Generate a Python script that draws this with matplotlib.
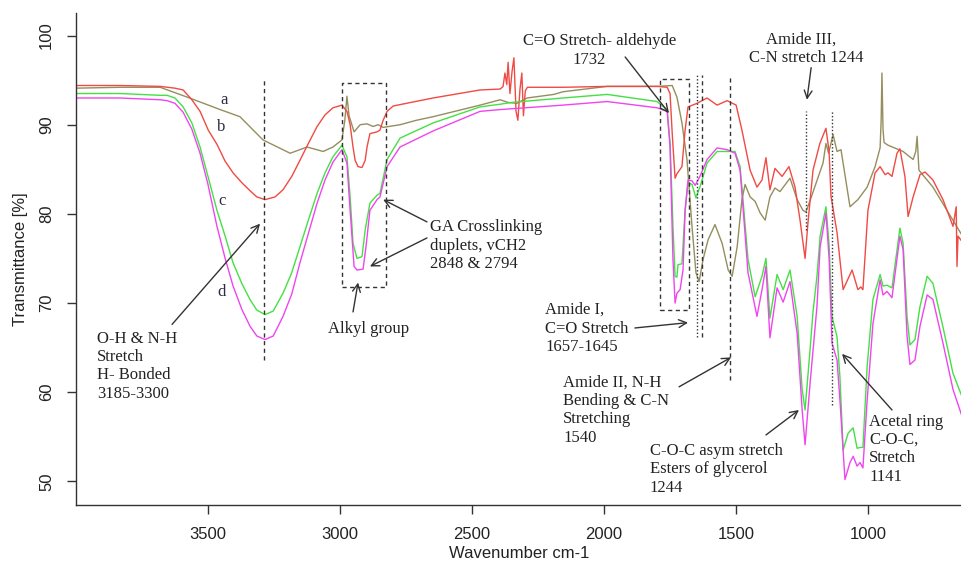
import matplotlib.pyplot as plt

plt.rcParams['font.family'] = ['Liberation Sans', 'DejaVu Sans']

# spectrum a (olive)
wn_a = [4000, 3832, 3680, 3578, 3453, 3378, 3291, 3188, 3124, 3063,
        3026, 2992, 2981, 2973, 2965, 2946, 2923, 2897, 2874, 2855,
        2836, 2772, 2710, 2647, 2469, 2393, 2363, 2330, 2291, 2190,
        2155, 1988, 1799, 1742, 1724, 1705, 1686, 1667, 1652, 1640,
        1625, 1606, 1580, 1553, 1530, 1515, 1496, 1478, 1466, 1447,
        1428, 1409, 1390, 1372, 1353, 1334, 1296, 1269, 1247, 1236,
        1220, 1171, 1160, 1150, 1133, 1118, 1103, 1069, 1039, 1004,
        974, 955, 951, 948, 944, 940, 925, 868, 830, 820,
        815, 808, 755, 702, 645]
tr_a = [94.1, 94.2, 94.2, 93.1, 91.7, 90.9, 88.3, 86.8, 87.5, 87.0,
        87.5, 88.3, 90.5, 93.2, 91.0, 89.2, 90.0, 90.1, 89.8, 90.0,
        89.7, 90.0, 90.5, 90.9, 92.2, 92.8, 92.5, 92.4, 93.0, 93.4,
        93.7, 94.3, 94.3, 94.4, 93.1, 90.2, 86.1, 78.6, 73.4, 72.4,
        74.9, 77.1, 78.8, 76.7, 73.7, 73.0, 76.3, 81.6, 83.3, 81.9,
        81.4, 80.1, 79.3, 81.9, 82.9, 82.5, 84.0, 81.6, 80.4, 80.2,
        81.5, 85.7, 87.9, 86.8, 88.9, 87.0, 87.2, 80.8, 81.6, 83.0,
        85.3, 87.4, 90.5, 95.8, 89.5, 88.0, 87.7, 87.0, 86.1, 87.0,
        88.7, 84.9, 83.0, 80.4, 77.6]

# spectrum b (red)
wn_b = [4000, 3832, 3680, 3624, 3593, 3560, 3529, 3498, 3465, 3434,
        3404, 3371, 3340, 3314, 3283, 3245, 3215, 3182, 3151, 3119,
        3086, 3056, 3026, 2992, 2973, 2961, 2950, 2942, 2931, 2916,
        2904, 2897, 2886, 2859, 2848, 2836, 2821, 2798, 2647, 2469,
        2393, 2382, 2375, 2368, 2363, 2356, 2348, 2341, 2333, 2326,
        2318, 2311, 2305, 2298, 2290, 2155, 1988, 1799, 1761, 1750,
        1742, 1731, 1724, 1712, 1705, 1693, 1682, 1648, 1610, 1572,
        1534, 1500, 1478, 1447, 1421, 1402, 1387, 1372, 1353, 1326,
        1300, 1277, 1258, 1239, 1228, 1209, 1183, 1160, 1148, 1141,
        1118, 1095, 1061, 1039, 1028, 1020, 1001, 974, 955, 936,
        925, 910, 891, 880, 861, 849, 830, 804, 785, 755,
        717, 679, 667, 664, 660, 645]
tr_b = [94.4, 94.4, 94.3, 94.1, 93.9, 92.8, 91.5, 89.4, 87.8, 85.9,
        84.6, 83.5, 82.6, 81.9, 81.6, 81.9, 82.7, 84.2, 86.0, 87.9,
        89.8, 91.1, 91.9, 92.2, 91.5, 90.0, 87.5, 86.0, 85.3, 85.2,
        86.0, 87.5, 89.0, 89.2, 89.4, 90.5, 91.5, 92.1, 93.0, 93.9,
        94.0, 94.3, 95.8, 94.5, 97.0, 93.5, 96.0, 97.5, 91.5, 90.5,
        94.0, 95.8, 91.0, 93.8, 94.2, 94.2, 94.3, 94.3, 94.2, 93.5,
        89.1, 84.0, 84.5, 85.0, 85.3, 89.4, 92.0, 92.4, 93.0, 92.2,
        92.7, 92.2, 89.4, 84.9, 83.0, 83.8, 86.3, 82.7, 85.1, 84.2,
        85.3, 83.0, 79.3, 75.0, 79.0, 84.9, 87.9, 89.6, 87.0, 82.0,
        77.9, 71.5, 73.7, 71.5, 71.8, 71.5, 80.4, 84.6, 85.3, 84.4,
        84.6, 84.2, 86.8, 87.3, 84.2, 79.7, 81.9, 84.4, 84.7, 83.8,
        81.6, 78.6, 80.8, 74.1, 77.5, 76.9]

# spectrum c (green)
wn_c = [4000, 3832, 3680, 3654, 3624, 3593, 3560, 3529, 3499, 3465,
        3434, 3404, 3371, 3340, 3314, 3283, 3252, 3215, 3182, 3151,
        3119, 3086, 3056, 3026, 2992, 2973, 2961, 2950, 2935, 2916,
        2904, 2886, 2859, 2848, 2821, 2772, 2647, 2469, 2393, 2350,
        2155, 1988, 1799, 1761, 1750, 1739, 1731, 1724, 1720, 1705,
        1693, 1682, 1667, 1652, 1637, 1610, 1572, 1534, 1504, 1485,
        1474, 1455, 1428, 1402, 1387, 1372, 1345, 1322, 1296, 1269,
        1250, 1239, 1220, 1209, 1194, 1182, 1160, 1148, 1137, 1118,
        1107, 1095, 1076, 1057, 1042, 1031, 1020, 1004, 982, 955,
        944, 929, 910, 880, 868, 853, 842, 823, 804, 777,
        755, 717, 679, 645]
tr_c = [93.5, 93.5, 93.3, 93.3, 93.0, 92.0, 90.2, 87.5, 84.2, 80.4,
        77.5, 74.5, 72.2, 70.4, 69.2, 68.7, 69.1, 71.1, 73.4, 76.3,
        79.3, 82.3, 84.6, 86.4, 87.7, 86.4, 81.9, 76.7, 75.0, 75.2,
        78.2, 81.2, 82.1, 82.3, 86.1, 88.5, 90.2, 92.0, 92.3, 92.5,
        93.0, 93.4, 92.6, 91.7, 88.0, 78.6, 73.0, 72.9, 74.3, 74.4,
        80.4, 83.5, 83.3, 81.8, 83.0, 85.7, 87.0, 87.0, 87.0, 85.3,
        81.6, 74.9, 70.7, 73.0, 75.0, 68.3, 73.2, 71.5, 73.7, 68.5,
        60.3, 58.0, 64.8, 69.0, 73.0, 77.5, 80.8, 76.5, 68.5, 66.2,
        61.7, 53.5, 55.4, 56.0, 53.7, 53.8, 53.8, 62.9, 70.4, 73.2,
        71.9, 72.0, 71.7, 78.4, 76.7, 68.5, 65.3, 65.9, 69.6, 73.0,
        72.2, 67.3, 62.1, 59.5]

# spectrum d (magenta)
wn_d = [4000, 3832, 3680, 3654, 3624, 3593, 3560, 3529, 3499, 3465,
        3434, 3404, 3371, 3340, 3314, 3283, 3252, 3215, 3182, 3151,
        3119, 3086, 3056, 3026, 2992, 2973, 2961, 2946, 2935, 2912,
        2901, 2886, 2859, 2848, 2821, 2772, 2647, 2469, 2393, 2155,
        1988, 1799, 1761, 1750, 1739, 1731, 1724, 1712, 1701, 1693,
        1682, 1667, 1655, 1637, 1610, 1572, 1534, 1504, 1485, 1474,
        1455, 1421, 1402, 1387, 1372, 1345, 1322, 1296, 1269, 1250,
        1239, 1220, 1194, 1182, 1160, 1148, 1137, 1118, 1107, 1088,
        1069, 1057, 1042, 1031, 1020, 1004, 982, 955, 944, 929,
        910, 880, 868, 853, 842, 823, 804, 777, 755, 717,
        679, 645]
tr_d = [93.0, 93.0, 92.8, 92.7, 92.4, 91.4, 89.5, 86.8, 83.3, 78.6,
        75.0, 71.9, 69.3, 67.4, 66.3, 65.9, 66.3, 68.5, 71.0, 74.5,
        77.8, 81.2, 83.8, 85.8, 87.2, 85.7, 80.4, 74.1, 73.7, 73.8,
        76.3, 80.4, 81.6, 81.9, 85.3, 87.5, 89.3, 91.5, 91.7, 92.2,
        92.6, 91.9, 91.5, 87.5, 74.9, 70.0, 71.1, 71.5, 73.7, 80.4,
        83.8, 83.7, 83.2, 84.2, 86.1, 87.4, 87.2, 86.8, 84.9, 80.8,
        73.4, 68.5, 71.5, 74.1, 66.1, 71.7, 70.1, 72.4, 66.6, 58.0,
        54.1, 61.0, 69.6, 76.3, 80.1, 75.0, 65.5, 63.6, 59.1, 50.2,
        52.1, 52.8, 51.7, 52.1, 51.5, 59.1, 67.7, 72.6, 70.9, 71.3,
        70.6, 77.5, 76.0, 66.3, 63.1, 63.6, 67.4, 70.9, 70.4, 65.5,
        60.3, 57.3]

x_ticks = [3500, 3000, 2500, 2000, 1500, 1000]
y_ticks = [50, 60, 70, 80, 90, 100]

# marker lines: (wavenumber, bottom, top)
dashed_lines = [(3287, 63.6, 95.0), (1629, 66.2, 95.6), (1523, 61.4, 95.6)]
dotted_lines = [(1648, 66.2, 95.6), (1236, 78.2, 91.5), (1136, 58.6, 91.5)]
# boxes: (left wn, right wn, bottom, top)
boxes = [(2993, 2826, 71.8, 94.7), (1788, 1678, 69.2, 95.1)]

curve_labels = [("a", 3438, 92.8), ("b", 3450, 89.8), ("c", 3446, 81.4), ("d", 3446, 71.2)]

# note text: (text, x, y, ha, va)
notes = [
    ("O-H & N-H\nStretch\nH- Bonded\n3185-3300", 3919, 66.9, "left", "top"),
    ("GA Crosslinking\nduplets, vCH2\n2848 & 2794", 2658, 79.4, "left", "top"),
    ("Alkyl group", 2893, 67.1, "center", "center"),
    ("C=O Stretch- aldehyde", 2017, 99.4, "center", "center"),
    ("1732", 2055, 97.3, "center", "center"),
    ("Amide III,", 1254, 99.5, "center", "center"),
    ("C-N stretch 1244", 1235, 97.5, "center", "center"),
    ("Amide I,\nC=O Stretch\n1657-1645", 2223, 70.1, "left", "top"),
    ("Amide II, N-H\nBending & C-N\nStretching\n1540", 2155, 62.0, "left", "top"),
    ("C-O-C asym stretch\nEsters of glycerol\n1244", 1826, 54.3, "left", "top"),
    ("Acetal ring\nC-O-C,\nStretch\n1141", 997, 57.6, "left", "top"),
]

# arrows: (tail x, tail y, tip x, tip y)
arrows = [
    (3635, 67.6, 3302, 78.9),
    (2670, 79.1, 2836, 81.6),
    (2670, 77.3, 2886, 74.1),
    (2950, 69.0, 2931, 72.3),
    (1920, 97.6, 1754, 91.3),
    (1216, 96.4, 1232, 92.8),
    (1883, 67.2, 1682, 67.8),
    (1716, 60.6, 1519, 63.9),
    (1387, 55.2, 1262, 58.0),
    (910, 58.0, 1099, 64.3),
]

fig = plt.figure(figsize=(9.62, 5.61), dpi=100)
ax = fig.add_axes([0.0786, 0.0998, 0.9214, 0.8765])

ax.plot(wn_a, tr_a, color="#958e5e", lw=1.0)
ax.plot(wn_b, tr_b, color="#f04a44", lw=1.0)
ax.plot(wn_c, tr_c, color="#44e044", lw=1.0)
ax.plot(wn_d, tr_d, color="#f044f0", lw=1.0)

ink = "#333333"
for x, y0, y1 in dashed_lines:
    ax.plot([x, x], [y0, y1], color=ink, lw=1.0, ls=(0, (3, 2.5)))
for x, y0, y1 in dotted_lines:
    ax.plot([x, x], [y0, y1], color=ink, lw=1.0, ls=(0, (1, 1.5)))
for x0, x1, y0, y1 in boxes:
    ax.plot([x0, x1, x1, x0, x0], [y0, y0, y1, y1, y0], color=ink, lw=1.0, ls=(0, (3, 2.5)))

serif = ["Liberation Serif", "DejaVu Serif"]
for s, x, y in curve_labels:
    ax.text(x, y, s, family=serif, fontsize=12, color="#2c2c44", ha="center", va="center")
for s, x, y, ha, va in notes:
    ax.text(x, y, s, family=serif, fontsize=12, color="#222222", ha=ha, va=va, linespacing=1.2)
for x0, y0, x1, y1 in arrows:
    ax.annotate("", xy=(x1, y1), xytext=(x0, y0),
                arrowprops=dict(arrowstyle="->", color=ink, lw=1.0, shrinkA=0, shrinkB=0,
                                mutation_scale=14))

ax.set_xlim(4000, 645)
ax.set_ylim(47.34, 102.5)
ax.set_xticks(x_ticks)
ax.set_yticks(y_ticks)
for lbl in ax.get_yticklabels():
    lbl.set_rotation(90)
    lbl.set_va("center")
ax.tick_params(length=6.5, width=1, pad=9, labelsize=12, color=ink, labelcolor="#222222")
for side in ("top", "right"):
    ax.spines[side].set_visible(False)
for side in ("left", "bottom"):
    ax.spines[side].set_color(ink)
    ax.spines[side].set_linewidth(1.0)

ax.set_xlabel("Wavenumber cm-1", fontsize=12, color="#222222", va="center")
ax.xaxis.set_label_coords(0.5, -0.0976)
ax.set_ylabel("Transmittance [%]", fontsize=12, color="#222222", va="center")
ax.yaxis.set_label_coords(-0.0627, 0.5)

fig.savefig("out.png", dpi=100)
